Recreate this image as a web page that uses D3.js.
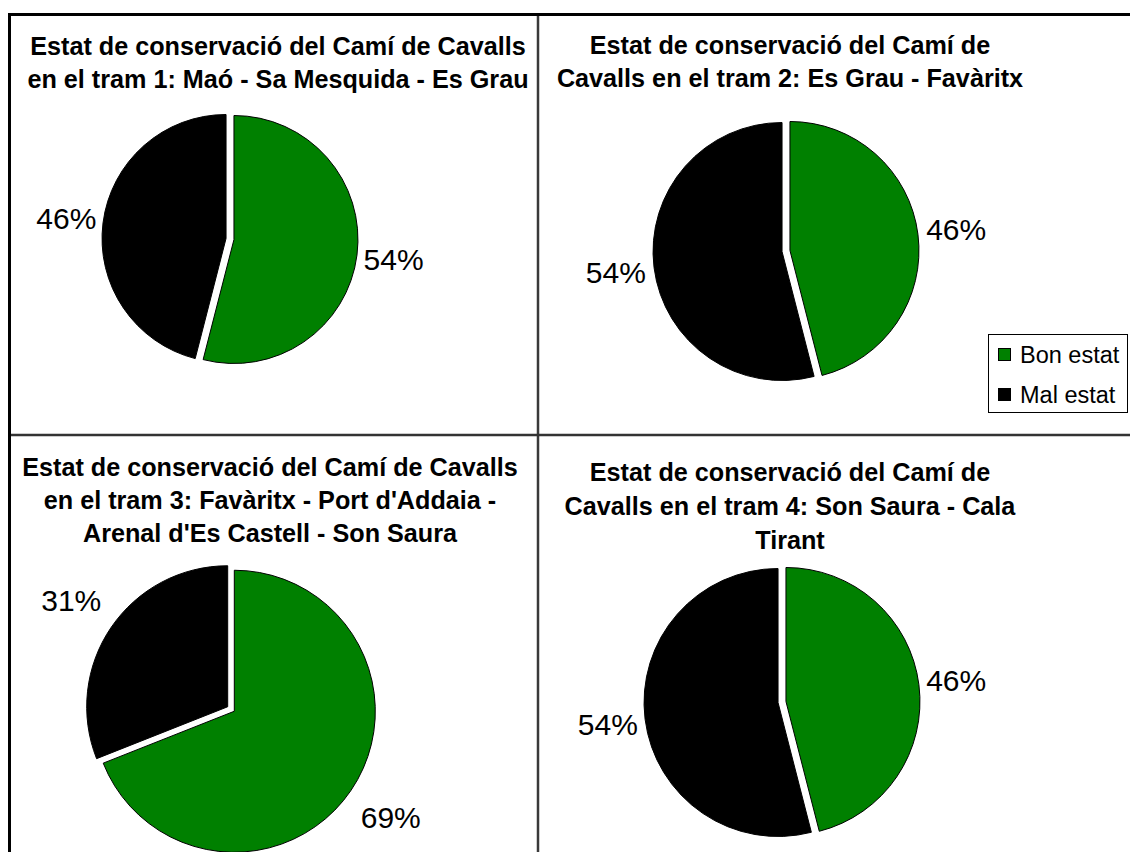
<!DOCTYPE html>
<html>
<head>
<meta charset="utf-8">
<script src="https://cdn.jsdelivr.net/npm/d3@7"></script>
<style>
  body { margin: 0; background: #fff; }
  text { font-family: "Liberation Sans", Arial, sans-serif; }
</style>
</head>
<body>
<div id="chart"></div>
<script>
// data
const categories = ["Bon estat", "Mal estat"]
const colors = ["#008000", "#000000"]

const tram1 = [54, 46]
const tram2 = [46, 54]
const tram3 = [69, 31]
const tram4 = [46, 54]

const titles1 = ["Estat de conservació del Camí de Cavalls", "en el tram 1: Maó - Sa Mesquida - Es Grau"]
const titles2 = ["Estat de conservació del Camí de", "Cavalls en el tram 2: Es Grau - Favàritx"]
const titles3 = ["Estat de conservació del Camí de Cavalls", "en el tram 3: Favàritx - Port d'Addaia -", "Arenal d'Es Castell - Son Saura"]
const titles4 = ["Estat de conservació del Camí de", "Cavalls en el tram 4: Son Saura - Cala", "Tirant"]

const width = 1130
const height = 852

// layout of the four panels
const panels = [
  { values: tram1, title: titles1, cx: 230, cy: 239, r: 124, lk: 1.33, tx: 278, ty: 55, lh: 32.5 },
  { values: tram2, title: titles2, cx: 786, cy: 251, r: 129, lk: 1.33, tx: 790, ty: 54, lh: 32.5 },
  { values: tram3, title: titles3, cx: 231, cy: 709, r: 141, lk: 1.37, tx: 270, ty: 476, lh: 33 },
  { values: tram4, title: titles4, cx: 782, cy: 702, r: 134, lk: 1.31, tx: 790, ty: 481, lh: 34 }
]

let svg = d3.select("#chart").append("svg")
    .attr("width", width)
    .attr("height", height)

// frame
let frame = svg.append("g")
frame.append("line").attr("x1", 538).attr("x2", 538).attr("y1", 16).attr("y2", height)
    .attr("stroke", "#3a3a3a").attr("stroke-width", 2.5)
frame.append("line").attr("x1", 10).attr("x2", width).attr("y1", 435).attr("y2", 435)
    .attr("stroke", "#333").attr("stroke-width", 2.5)
frame.append("line").attr("x1", 8).attr("x2", width).attr("y1", 14.5).attr("y2", 14.5)
    .attr("stroke", "#000").attr("stroke-width", 3)
frame.append("line").attr("x1", 9.5).attr("x2", 9.5).attr("y1", 13).attr("y2", height)
    .attr("stroke", "#000").attr("stroke-width", 3)

let pie = d3.pie().sort(null).value(d => d)
const explode = 4

panels.forEach(p => {
  let g = svg.append("g")

  // title
  let title = g.append("text")
      .attr("text-anchor", "middle")
      .attr("font-weight", "bold")
      .attr("font-size", 25.2)
      .attr("fill", "#000")
  p.title.forEach((line, i) => {
    title.append("tspan")
        .attr("x", p.tx)
        .attr("y", p.ty + i * p.lh)
        .text(line)
  })

  let arc = d3.arc().innerRadius(0).outerRadius(p.r)
  let labelArc = d3.arc().innerRadius(p.r * p.lk).outerRadius(p.r * p.lk)
  let slices = pie(p.values)

  let pg = g.append("g").attr("transform", `translate(${p.cx},${p.cy})`)

  pg.selectAll("path")
    .data(slices)
    .enter()
    .append("path")
    .attr("d", arc)
    .attr("transform", d => {
      let a = (d.startAngle + d.endAngle) / 2
      return `translate(${Math.sin(a) * explode},${-Math.cos(a) * explode})`
    })
    .attr("fill", (d, i) => colors[i])
    .attr("stroke", "#000")
    .attr("stroke-width", 1)

  pg.selectAll(".lbl")
    .data(slices)
    .enter()
    .append("text")
    .attr("class", "lbl")
    .attr("x", d => labelArc.centroid(d)[0])
    .attr("y", d => labelArc.centroid(d)[1])
    .attr("text-anchor", "middle")
    .attr("dominant-baseline", "central")
    .attr("font-size", 30)
    .attr("fill", "#000")
    .text(d => d.value + "%")
})

// legend
let legend = svg.append("g").attr("transform", "translate(988,334)")
legend.append("rect")
    .attr("x", 0.5).attr("y", 0.5)
    .attr("width", 139).attr("height", 78)
    .attr("fill", "#fff").attr("stroke", "#000").attr("stroke-width", 1)
categories.forEach((c, i) => {
  legend.append("rect")
      .attr("x", 10.5).attr("y", 14.5 + i * 40)
      .attr("width", 12).attr("height", 12)
      .attr("fill", colors[i]).attr("stroke", "#000")
  legend.append("text")
      .attr("x", 32).attr("y", 21 + i * 40)
      .attr("dominant-baseline", "central")
      .attr("font-size", 23.5)
      .text(c)
})
</script>
</body>
</html>
